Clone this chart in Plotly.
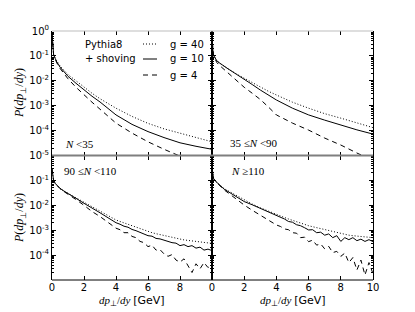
import numpy as np
import plotly.graph_objects as go
from plotly.subplots import make_subplots

# ---------------- data (log10 of P) ----------------
x_smooth = [0, 0.02, 0.05, 0.1, 0.2, 0.3, 0.5, 0.75, 1, 1.5, 2, 2.5, 3, 3.5, 4,
            5, 6, 7, 8, 9, 10]

tl_g40 = [-0.1, -0.4, -0.7, -0.95, -1.1, -1.22, -1.4, -1.58, -1.75, -2.0, -2.26, -2.5,
          -2.72, -2.92, -3.1, -3.43, -3.71, -3.93, -4.11, -4.29, -4.45]
tl_g10 = [-0.1, -0.4, -0.7, -0.95, -1.1, -1.25, -1.45, -1.65, -1.82, -2.1, -2.37, -2.62,
          -2.85, -3.1, -3.37, -3.75, -4.04, -4.28, -4.49, -4.63, -4.75]
tl_g4 = [-0.1, -0.4, -0.7, -0.95, -1.12, -1.28, -1.5, -1.73, -1.92, -2.26, -2.57, -2.86,
         -3.14, -3.42, -3.7, -4.1, -4.45, -4.75, -5.05, -5.3, -5.5]

tr_g40 = [-0.1, -0.45, -0.75, -0.98, -1.1, -1.2, -1.3, -1.42, -1.52, -1.72, -1.9, -2.08,
          -2.25, -2.42, -2.57, -2.86, -3.1, -3.32, -3.5, -3.7, -3.88]
tr_g10 = [-0.1, -0.45, -0.75, -0.98, -1.1, -1.2, -1.3, -1.42, -1.52, -1.73, -1.93, -2.15,
          -2.37, -2.57, -2.77, -3.1, -3.37, -3.58, -3.78, -3.97, -4.14]
tr_g4 = [-0.1, -0.45, -0.75, -1.0, -1.15, -1.27, -1.4, -1.55, -1.68, -1.97, -2.26, -2.5,
         -2.75, -3.05, -3.37, -3.7, -3.98, -4.3, -4.58, -4.9, -5.2]

x_noisy = [0, 0.02, 0.05, 0.1, 0.2, 0.3, 0.5, 0.75, 1, 1.5, 2, 2.5, 3, 3.5, 4,
           4.25, 4.5, 4.75, 5, 5.25, 5.5, 5.75, 6, 6.25, 6.5, 6.75, 7, 7.25, 7.5,
           7.75, 8, 8.25, 8.5, 8.75, 9, 9.25, 9.5, 9.75, 10]

bl_g40 = [-0.55, -0.7, -0.85, -1.0, -1.12, -1.2, -1.32, -1.43, -1.52, -1.7, -1.88, -2.05,
          -2.23, -2.41, -2.59,
          -2.65, -2.71, -2.77, -2.83, -2.89, -2.95, -3.0, -3.06, -3.1, -3.14, -3.18,
          -3.22, -3.26, -3.3, -3.34, -3.37, -3.39, -3.41, -3.43, -3.45, -3.47, -3.49,
          -3.51, -3.53]
bl_g10 = [-0.55, -0.7, -0.85, -1.0, -1.12, -1.2, -1.32, -1.43, -1.52, -1.72, -1.92, -2.1,
          -2.3, -2.5, -2.7,
          -2.76, -2.84, -2.88, -2.97, -3.02, -3.08, -3.15, -3.22, -3.24, -3.33, -3.35,
          -3.4, -3.46, -3.5, -3.52, -3.62, -3.58, -3.66, -3.62, -3.72, -3.68, -3.8,
          -3.76, -3.82]
bl_g4 = [-0.55, -0.7, -0.85, -1.0, -1.12, -1.2, -1.33, -1.45, -1.55, -1.77, -2.0, -2.25,
         -2.45, -2.7, -2.92,
         -2.98, -3.1, -3.1, -3.25, -3.3, -3.45, -3.5, -3.66, -3.6, -3.8, -3.78,
         -3.95, -4.05, -3.98, -4.2, -4.28, -4.15, -4.45, -4.7, -4.35, -4.55, -4.3,
         -4.5, -4.4]

br_g40 = [-0.5, -0.65, -0.8, -0.93, -1.02, -1.08, -1.2, -1.33, -1.42, -1.6, -1.8, -1.95,
          -2.1, -2.24, -2.37,
          -2.43, -2.49, -2.55, -2.61, -2.66, -2.71, -2.76, -2.82, -2.86, -2.9, -2.94,
          -2.98, -3.02, -3.06, -3.1, -3.14, -3.17, -3.2, -3.22, -3.24, -3.26, -3.28,
          -3.29, -3.3]
br_g10 = [-0.5, -0.65, -0.8, -0.93, -1.02, -1.08, -1.2, -1.35, -1.45, -1.65, -1.85, -1.98,
          -2.12, -2.28, -2.43,
          -2.5, -2.55, -2.65, -2.68, -2.78, -2.82, -2.9, -2.99, -2.98, -3.1, -3.08,
          -3.2, -3.15, -3.3, -3.22, -3.45, -3.3, -3.38, -3.3, -3.42, -3.36, -3.45,
          -3.38, -3.46]
br_g4 = [-0.5, -0.65, -0.8, -0.93, -1.03, -1.1, -1.23, -1.38, -1.5, -1.75, -1.99, -2.2,
         -2.4, -2.6, -2.79,
         -2.85, -2.95, -2.98, -3.1, -3.12, -3.3, -3.28, -3.46, -3.4, -3.6, -3.55,
         -3.75, -3.65, -3.9, -3.85, -4.05, -3.92, -4.3, -4.1, -4.6, -4.2, -4.8,
         -4.3, -4.75]

series_names = ["g = 40", "g = 10", "g = 4"]
legend_header = ["Pythia8", "+ shoving"]
panel_labels = ["<i>N</i> <35", "35 ≤<i>N</i> <90", "90 ≤<i>N</i> <110", "<i>N</i> ≥110"]
y_tickvals = [1, 1e-1, 1e-2, 1e-3, 1e-4, 1e-5]
y_ticktext = ["10<sup>0</sup>", "10<sup>-1</sup>", "10<sup>-2</sup>", "10<sup>-3</sup>",
              "10<sup>-4</sup>", "10<sup>-5</sup>"]
x_tickvals = [0, 2, 4, 6, 8, 10]

# ---------------- figure ----------------
fig = make_subplots(rows=2, cols=2, horizontal_spacing=0, vertical_spacing=0)

dashes = ["1px,2px", "solid", "5px,4px"]
panels = [
    (1, 1, x_smooth, [tl_g40, tl_g10, tl_g4]),
    (1, 2, x_smooth, [tr_g40, tr_g10, tr_g4]),
    (2, 1, x_noisy, [bl_g40, bl_g10, bl_g4]),
    (2, 2, x_noisy, [br_g40, br_g10, br_g4]),
]
for pi, (r, c, xs, ys) in enumerate(panels):
    for si, yl in enumerate(ys):
        fig.add_trace(go.Scatter(
            x=xs, y=np.power(10.0, yl), mode="lines", name=series_names[si],
            line=dict(color="black", width=1, dash=dashes[si]),
            showlegend=False), row=r, col=c)

W, H = 415, 312
L, R, T, B = 52, 42, 31, 32
pw, ph = W - L - R, H - T - B
xd = [[0, 160 / pw], [160 / pw, 1]]
yd = [[0.5, 1], [0, 0.5]]


def px2x(px):
    return (px - L) / pw


def px2y(py):
    return 1 - (py - T) / ph


tickfont = dict(family="DejaVu Sans", size=10, color="black")
for r in (1, 2):
    for c in (1, 2):
        if r == 2:
            xv = x_tickvals if c == 2 else x_tickvals[:-1]
        else:
            xv = x_tickvals
        fig.update_xaxes(row=r, col=c, domain=xd[c - 1], range=[0, 10],
                         tickvals=xv, ticktext=[str(v) for v in xv],
                         showticklabels=(r == 2), ticks="inside", ticklen=4,
                         tickcolor="black", showline=False, mirror="ticks",
                         showgrid=False, zeroline=False, tickfont=tickfont)
        if r == 1:
            yv, yt = y_tickvals, y_ticktext
        else:
            yv, yt = y_tickvals[1:5], y_ticktext[1:5]
        fig.update_yaxes(row=r, col=c, domain=yd[r - 1], type="log", range=[-5, 0],
                         tickvals=yv, ticktext=yt,
                         showticklabels=(c == 1), ticks="inside", ticklen=4,
                         tickcolor="black", showline=True, linecolor="black",
                         linewidth=1, mirror="ticks", showgrid=False, zeroline=False,
                         minor=dict(ticks="inside", ticklen=2, tickcolor="black",
                                    dtick="D1", showgrid=False),
                         tickfont=tickfont)

shapes = [
    dict(type="line", xref="paper", yref="paper", x0=0, x1=1, y0=1, y1=1,
         line=dict(color="#bdbdbd", width=1)),
    dict(type="line", xref="paper", yref="paper", x0=0, x1=1, y0=0.5, y1=0.5,
         line=dict(color="#7f7f7f", width=2)),
    dict(type="line", xref="paper", yref="paper", x0=0, x1=1, y0=0, y1=0,
         line=dict(color="black", width=1)),
]

annos = []
serif = dict(family="Liberation Serif", size=11, color="black")
serif12 = dict(family="Liberation Serif", size=12, color="black")
sans10 = dict(family="DejaVu Sans", size=10, color="black")
# panel labels
label_pos = [(63, 144), (228, 143), (62, 171), (229, 171)]
for (px, py), txt in zip(label_pos, panel_labels):
    annos.append(dict(x=px2x(px), y=px2y(py), xref="paper", yref="paper",
                      text=txt, showarrow=False, xanchor="left", yanchor="middle",
                      font=serif))
# y titles
for cy in (93, 218):
    annos.append(dict(x=px2x(20), y=px2y(cy), xref="paper", yref="paper",
                      text="<i>P</i>(<i>dp</i><sub>⊥</sub>/<i>dy</i>)", textangle=-90,
                      showarrow=False, xanchor="center", yanchor="middle", font=serif12))
# x titles
for cx in (132, 292.5):
    annos.append(dict(x=px2x(cx), y=px2y(301), xref="paper", yref="paper",
                      text="<i>dp</i><sub>⊥</sub>/<i>dy</i> "
                           "<span style='font-family:DejaVu Sans'>[GeV]</span>",
                      showarrow=False, xanchor="center", yanchor="middle", font=serif))
# legend header text
for txt, py in zip(legend_header, (44, 59)):
    annos.append(dict(x=px2x(83), y=px2y(py), xref="paper", yref="paper",
                      text=txt, showarrow=False, xanchor="left", yanchor="middle",
                      font=sans10))
# legend entries (key line + label)
for si, py in enumerate((44, 59, 75)):
    shapes.append(dict(type="line", xref="paper", yref="paper",
                       x0=px2x(143), x1=px2x(157), y0=px2y(py), y1=px2y(py),
                       line=dict(color="black", width=1, dash=dashes[si])))
    annos.append(dict(x=px2x(168), y=px2y(py), xref="paper", yref="paper",
                      text=series_names[si], showarrow=False, xanchor="left",
                      yanchor="middle", font=sans10))

fig.update_layout(
    width=W, height=H, margin=dict(l=L, r=R, t=T, b=B),
    plot_bgcolor="white", paper_bgcolor="white",
    annotations=annos, shapes=shapes, showlegend=False,
)

fig.write_html("out.html", config={"displayModeBar": False},
               post_script="document.body.style.margin='0';")
